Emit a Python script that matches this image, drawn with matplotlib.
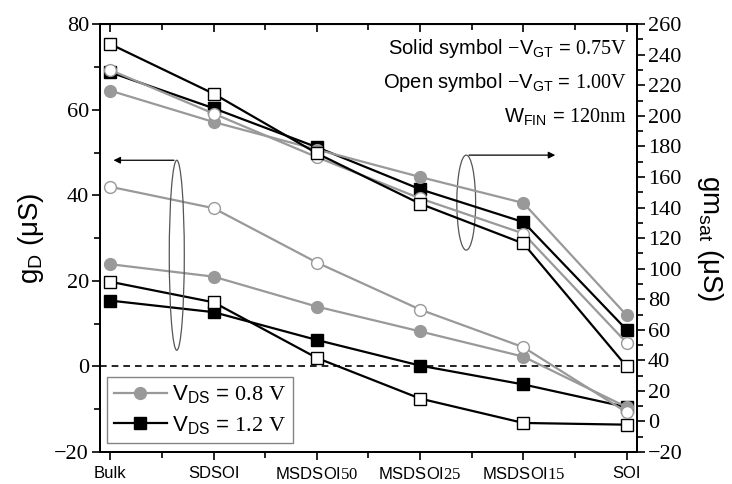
import matplotlib
matplotlib.use("Agg")
import matplotlib.pyplot as plt
from matplotlib.patches import Ellipse
from matplotlib.lines import Line2D

plt.rcParams["font.family"] = "Liberation Sans"
plt.rcParams["mathtext.fontset"] = "custom"
plt.rcParams["mathtext.rm"] = "Liberation Serif"
plt.rcParams["mathtext.sf"] = "Liberation Sans"
plt.rcParams["mathtext.it"] = "Liberation Sans:italic"

categories = ["Bulk", "SDSOI", "MSDSOI50", "MSDSOI25", "MSDSOI15", "SOI"]
tick_labels = ["Bulk", "SDSOI", r"MSDSOI$\mathrm{50}$", r"MSDSOI$\mathrm{25}$",
               r"MSDSOI$\mathrm{15}$", "SOI"]

# g_D (left axis), uS
gd_08_solid = [23.9, 21.0, 14.0, 8.2, 2.3, -9.5]
gd_08_open = [42.0, 37.0, 24.3, 13.3, 4.5, -10.7]
gd_12_solid = [15.4, 12.7, 6.2, 0.2, -4.2, -9.5]
gd_12_open = [19.8, 15.0, 2.0, -7.5, -13.2, -13.6]

# gm_sat (right axis), uS
gm_08_solid = [216.5, 196.0, 178.0, 160.0, 143.0, 69.5]
gm_08_open = [230.0, 201.5, 173.0, 146.0, 123.0, 51.5]
gm_12_solid = [228.5, 205.0, 179.5, 152.0, 130.5, 60.0]
gm_12_open = [247.0, 214.5, 175.5, 142.5, 116.5, 36.0]

gray = "#999999"
x = list(range(len(categories)))

fig = plt.figure(figsize=(7.32, 4.84), dpi=100)
ax = fig.add_axes([0.1366, 0.066, 0.7336, 0.884])
ax2 = ax.twinx()

ms_c, ms_s, lw = 8.5, 8.0, 1.6

# left axis series
ax.plot(x, gd_12_solid, color="black", lw=lw, marker="s", ms=ms_s, mfc="black", mec="black", zorder=3)
ax.plot(x, gd_12_open, color="black", lw=lw, marker="s", ms=ms_s, mfc="white", mec="black", mew=1.0, zorder=3)
ax.plot(x, gd_08_solid, color=gray, lw=lw, marker="o", ms=ms_c, mfc=gray, mec=gray, zorder=4)
ax.plot(x, gd_08_open, color=gray, lw=lw, marker="o", ms=ms_c, mfc="white", mec=gray, mew=1.0, zorder=4)
ax.axhline(0, color="black", lw=1.2, ls=(0, (4, 3)), zorder=2)

# right axis series
ax2.plot(x, gm_12_solid, color="black", lw=lw, marker="s", ms=ms_s, mfc="black", mec="black", zorder=3)
ax2.plot(x, gm_08_solid, color=gray, lw=lw, marker="o", ms=ms_c, mfc=gray, mec=gray, zorder=4)
ax2.plot(x, gm_08_open, color=gray, lw=lw, marker="o", ms=ms_c, mfc="white", mec=gray, mew=1.0, zorder=4)
ax2.plot(x, gm_12_open, color="black", lw=lw, marker="s", ms=ms_s, mfc="white", mec="black", mew=1.0, zorder=5)

ax.set_xlim(-0.1, 5.1)
ax.set_ylim(-20, 80)
ax2.set_ylim(-20, 260)

ax.set_xticks(x)
ax.set_xticklabels(tick_labels, fontsize=12)
ax.set_xticks([i + 0.5 for i in x[:-1]], minor=True)
ax.set_yticks(range(-20, 81, 20))
ax.set_yticks(range(-10, 80, 20), minor=True)
ax2.set_yticks(range(-20, 261, 20))
ax2.set_yticks(range(-10, 260, 20), minor=True)

ax.tick_params(axis="x", which="both", direction="out", top=False, length=6, width=1.2, pad=4)
ax.tick_params(axis="x", which="minor", length=4)
ax.tick_params(axis="y", which="major", direction="out", length=6, width=1.2, labelsize=16, pad=2)
ax.tick_params(axis="y", which="minor", direction="out", length=4, width=1.2)
ax2.tick_params(axis="y", which="major", direction="out", length=6, width=1.2, labelsize=16, pad=2)
ax2.tick_params(axis="y", which="minor", direction="out", length=4, width=1.2)
for lab in ax.get_yticklabels() + ax2.get_yticklabels():
    lab.set_fontfamily("Liberation Serif")

# top ticks pointing inward
sec = ax.secondary_xaxis("top")
sec.set_xticks(x)
sec.set_xticks([i + 0.5 for i in x[:-1]], minor=True)
sec.tick_params(axis="x", which="both", direction="in", length=6, width=1.2, labeltop=False)
sec.tick_params(axis="x", which="minor", length=4)

for a in (ax, ax2):
    for s in a.spines.values():
        s.set_linewidth(1.4)

ax.set_ylabel("g$_\\mathsf{D}$ (μS)", fontsize=20, labelpad=6)
ax2.set_ylabel("gm$_\\mathsf{sat}$ (μS)", fontsize=20, rotation=270, labelpad=30)

# annotations
txt_kw = dict(transform=ax.transAxes, ha="right", va="center", fontsize=14.5)
ax.text(0.981, 0.944, r"Solid symbol $-$V$_\mathsf{GT}$ = $\mathrm{0.75V}$", **txt_kw)
ax.text(0.981, 0.864, r"Open symbol $-$V$_\mathsf{GT}$ = $\mathrm{1.00V}$", **txt_kw)
ax.text(0.981, 0.783, r"W$_\mathsf{FIN}$ = $\mathrm{120nm}$", **txt_kw)

ax.add_patch(Ellipse((0.143, 0.46), 0.028, 0.444, transform=ax.transAxes,
                     fill=False, ec="#555555", lw=0.9, zorder=6))
ax.annotate("", xy=(0.02, 0.682), xytext=(0.143, 0.682), xycoords="axes fraction",
            arrowprops=dict(arrowstyle="-|>", color="black", lw=0.9, mutation_scale=10))
ax.add_patch(Ellipse((0.682, 0.583), 0.035, 0.222, transform=ax.transAxes,
                     fill=False, ec="#555555", lw=0.9, zorder=6))
ax.annotate("", xy=(0.853, 0.694), xytext=(0.682, 0.694), xycoords="axes fraction",
            arrowprops=dict(arrowstyle="-|>", color="black", lw=0.9, mutation_scale=10))

handles = [
    Line2D([], [], color=gray, lw=lw, marker="o", ms=ms_c, mfc=gray, mec=gray),
    Line2D([], [], color="black", lw=lw, marker="s", ms=ms_s, mfc="black", mec="black"),
]
labels = [r"V$_\mathsf{DS}$ = $\mathrm{0.8\ V}$", r"V$_\mathsf{DS}$ = $\mathrm{1.2\ V}$"]
leg = ax2.legend(handles, labels, loc="lower left", bbox_to_anchor=(0.005, 0.01),
                 fontsize=16, frameon=True, fancybox=False, edgecolor="#666666",
                 handlelength=2.4, handletextpad=0.2, borderpad=0.3, labelspacing=0.35,
                 borderaxespad=0.2)
leg.get_frame().set_linewidth(1.0)

fig.savefig("out.png", dpi=100)
